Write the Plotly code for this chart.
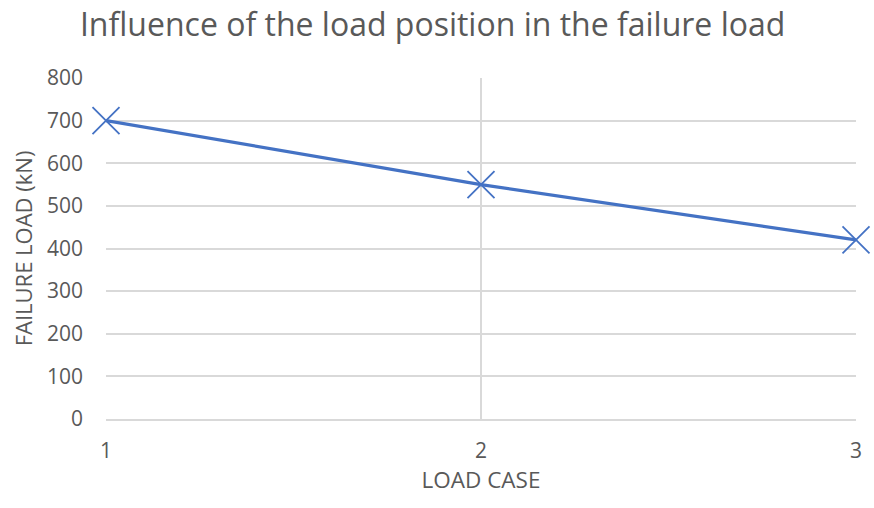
import plotly.graph_objs as go

load_case = [1, 2, 3]
failure_load = [700, 550, 420]

fig = go.Figure()
fig.add_trace(
    go.Scatter(
        x=load_case,
        y=failure_load,
        mode="lines+markers",
        line=dict(color="#4472C4", width=3.2),
        marker=dict(symbol="x-thin", size=27, line=dict(color="#4472C4", width=1.8)),
        cliponaxis=False,
        showlegend=False,
    )
)

font_family = "Open Sans"
grey = "#595959"

fig.update_layout(
    width=874,
    height=508,
    margin=dict(l=106, r=14, t=78, b=89),
    plot_bgcolor="white",
    paper_bgcolor="white",
    font=dict(family=font_family, color=grey),
    title=dict(
        text="Influence of the load position in the failure load",
        font=dict(size=32, color=grey, family=font_family),
        x=0.495,
        xanchor="center",
        y=0.952,
        yanchor="middle",
    ),
)
fig.update_xaxes(
    range=[1, 3],
    tickvals=load_case,
    showgrid=True,
    gridcolor="#d9d9d9",
    gridwidth=1.5,
    zeroline=False,
    showline=True,
    linecolor="#d9d9d9",
    linewidth=1.5,
    ticks="",
    tickfont=dict(size=21, color=grey),
    ticklabelstandoff=12,
    title=dict(text="LOAD CASE", font=dict(size=22.5, color=grey), standoff=8),
)
fig.update_yaxes(
    range=[0, 800],
    dtick=100,
    showgrid=True,
    gridcolor="#d9d9d9",
    gridwidth=1.5,
    zeroline=False,
    showline=False,
    ticks="",
    tickfont=dict(size=21, color=grey),
    ticklabelstandoff=22,
    title=dict(text="FAILURE LOAD (kN)", font=dict(size=22, color=grey), standoff=8),
)

# drop the default 8px page margin so the figure fills the window exactly
fig.write_html(
    "out.html",
    config={"displayModeBar": False},
    post_script="document.body.style.margin = '0';",
)
